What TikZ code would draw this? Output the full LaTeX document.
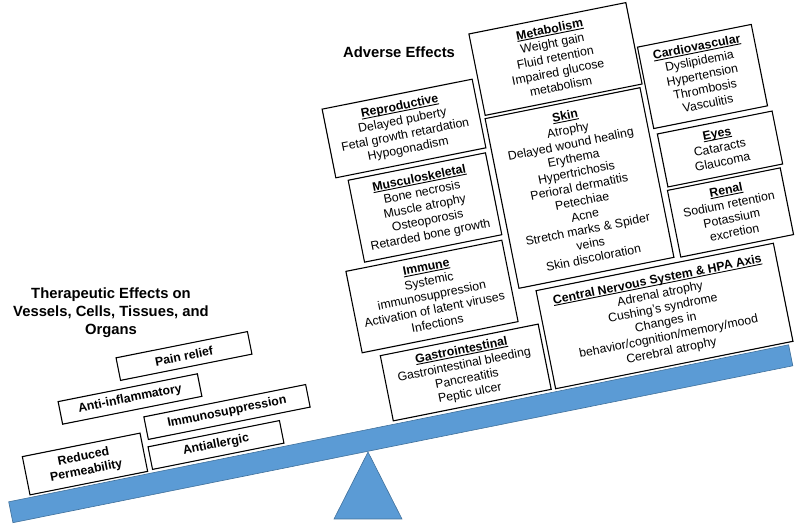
\documentclass[tikz,border=0pt]{standalone}
\usepackage{fontspec}
\setmainfont{Liberation Sans}
\usepackage{graphicx}

\definecolor{barblue}{HTML}{5B9BD5}
\definecolor{baredge}{HTML}{41719C}

% bold heading with a close underline
\newsavebox{\hdbox}
\newcommand{\hd}[1]{\sbox{\hdbox}{\bfseries #1}\rlap{\rule[-1.9pt]{\wd\hdbox}{0.9pt}}\usebox{\hdbox}}

% tilted effect box: name, x, y (from top), width, height, lines
\newcommand{\effectbox}[6]{%
    \draw[boxline, shift={(#2,\pich-#3)}, rotate=\tilt] (-#4/2,-#5/2) rectangle (#4/2,#5/2);
    \node[effect] (#1) at (#2,\pich-#3) {\rotatebox{\tilt}{\begin{tabular}{@{}c@{}}#6\end{tabular}}};
}

\begin{document}
\begin{tikzpicture}[
        x=1pt, y=1pt,
        boxline/.style={line width=1.1pt, fill=white},
        effect/.style={inner sep=0pt, font=\fontsize{12.3}{14.5}\selectfont},
        therapy/.style={draw, line width=1.1pt, fill=white, align=center, inner sep=2pt,
                        font=\fontsize{12.3}{14.5}\selectfont\bfseries},
        title/.style={align=center, font=\fontsize{14.8}{18}\selectfont\bfseries}
        ]
        % pixel coordinates, measured from the top edge
        \def\pich{526}
        \def\tilt{11.3}
        \useasboundingbox (0,0) rectangle (800,\pich);

        % --- Balance beam and fulcrum ---
        \filldraw[fill=barblue, draw=baredge, line width=0.6pt]
            (8.7,\pich-501.8) -- (788.6,\pich-344.8) -- (792.8,\pich-365.8) -- (12.9,\pich-522.7) -- cycle;
        \filldraw[fill=barblue, draw=baredge, line width=0.6pt]
            (368,\pich-452) -- (402,\pich-519) -- (334,\pich-519) -- cycle;

        % --- Titles ---
        \node[title] (adverse)     at (399,\pich-52)  {Adverse Effects};
        \node[title] (therapeutic) at (111,\pich-313) {Therapeutic Effects on\\Vessels, Cells, Tissues, and\\Organs};

        % Left side (therapeutic)
        \node[therapy, rotate=11.3, minimum width=134, minimum height=23] (pain)     at (184,\pich-356) {Pain relief};
        \node[therapy, rotate=11.3, minimum width=142, minimum height=23] (antiinfl) at (130,\pich-399) {Anti-inflammatory};
        \node[therapy, rotate=11.3, minimum width=165, minimum height=23] (immsup)   at (227,\pich-412) {Immunosuppression};
        \node[therapy, rotate=11.3, minimum width=134, minimum height=23] (antiall)  at (216,\pich-445) {Antiallergic};
        \node[therapy, rotate=11.3, minimum width=120, minimum height=39] (perm)     at (85,\pich-464)  {Reduced\\Permeability};

        % Right side (adverse), left column
        \effectbox{repro}{404}{128.5}{153}{70}
            {\hd{Reproductive}\\Delayed puberty\\Fetal growth retardation\\Hypogonadism}
        \effectbox{musc}{425}{207.5}{140}{83.5}
            {\hd{Musculoskeletal}\\Bone necrosis\\Muscle atrophy\\Osteoporosis\\Retarded bone growth}
        \effectbox{immune}{432}{296.5}{159}{83}
            {\hd{Immune}\\Systemic\\immunosuppression\\Activation of latent viruses\\Infections}
        \effectbox{gi}{465.75}{372.5}{161}{66.5}
            {\hd{Gastrointestinal}\\Gastrointestinal bleeding\\Pancreatitis\\Peptic ulcer}

        % Middle column
        \effectbox{metab}{555.5}{59}{160}{83}
            {\hd{Metabolism}\\Weight gain\\Fluid retention\\Impaired glucose\\metabolism}
        \effectbox{skin}{579.5}{188}{158}{173}
            {\hd{Skin}\\Atrophy\\Delayed wound healing\\Erythema\\Hypertrichosis\\Perioral dermatitis\\Petechiae\\Acne\\Stretch marks \& Spider\\veins\\Skin discoloration}

        % Right column
        \effectbox{cardio}{702.5}{76.5}{116}{83}
            {\hd{Cardiovascular}\\Dyslipidemia\\Hypertension\\Thrombosis\\Vasculitis}
        \effectbox{eyes}{720}{149}{117}{54}
            {\hd{Eyes}\\Cataracts\\Glaucoma}
        \effectbox{renal}{730.5}{212.5}{115}{68}
            {\hd{Renal}\\Sodium retention\\Potassium\\excretion}
        \effectbox{cns}{664.5}{316}{242}{100}
            {\hd{Central Nervous System \& HPA Axis}\\Adrenal atrophy\\Cushing’s syndrome\\Changes in\\behavior/cognition/memory/mood\\Cerebral atrophy}

    \end{tikzpicture}
\end{document}
